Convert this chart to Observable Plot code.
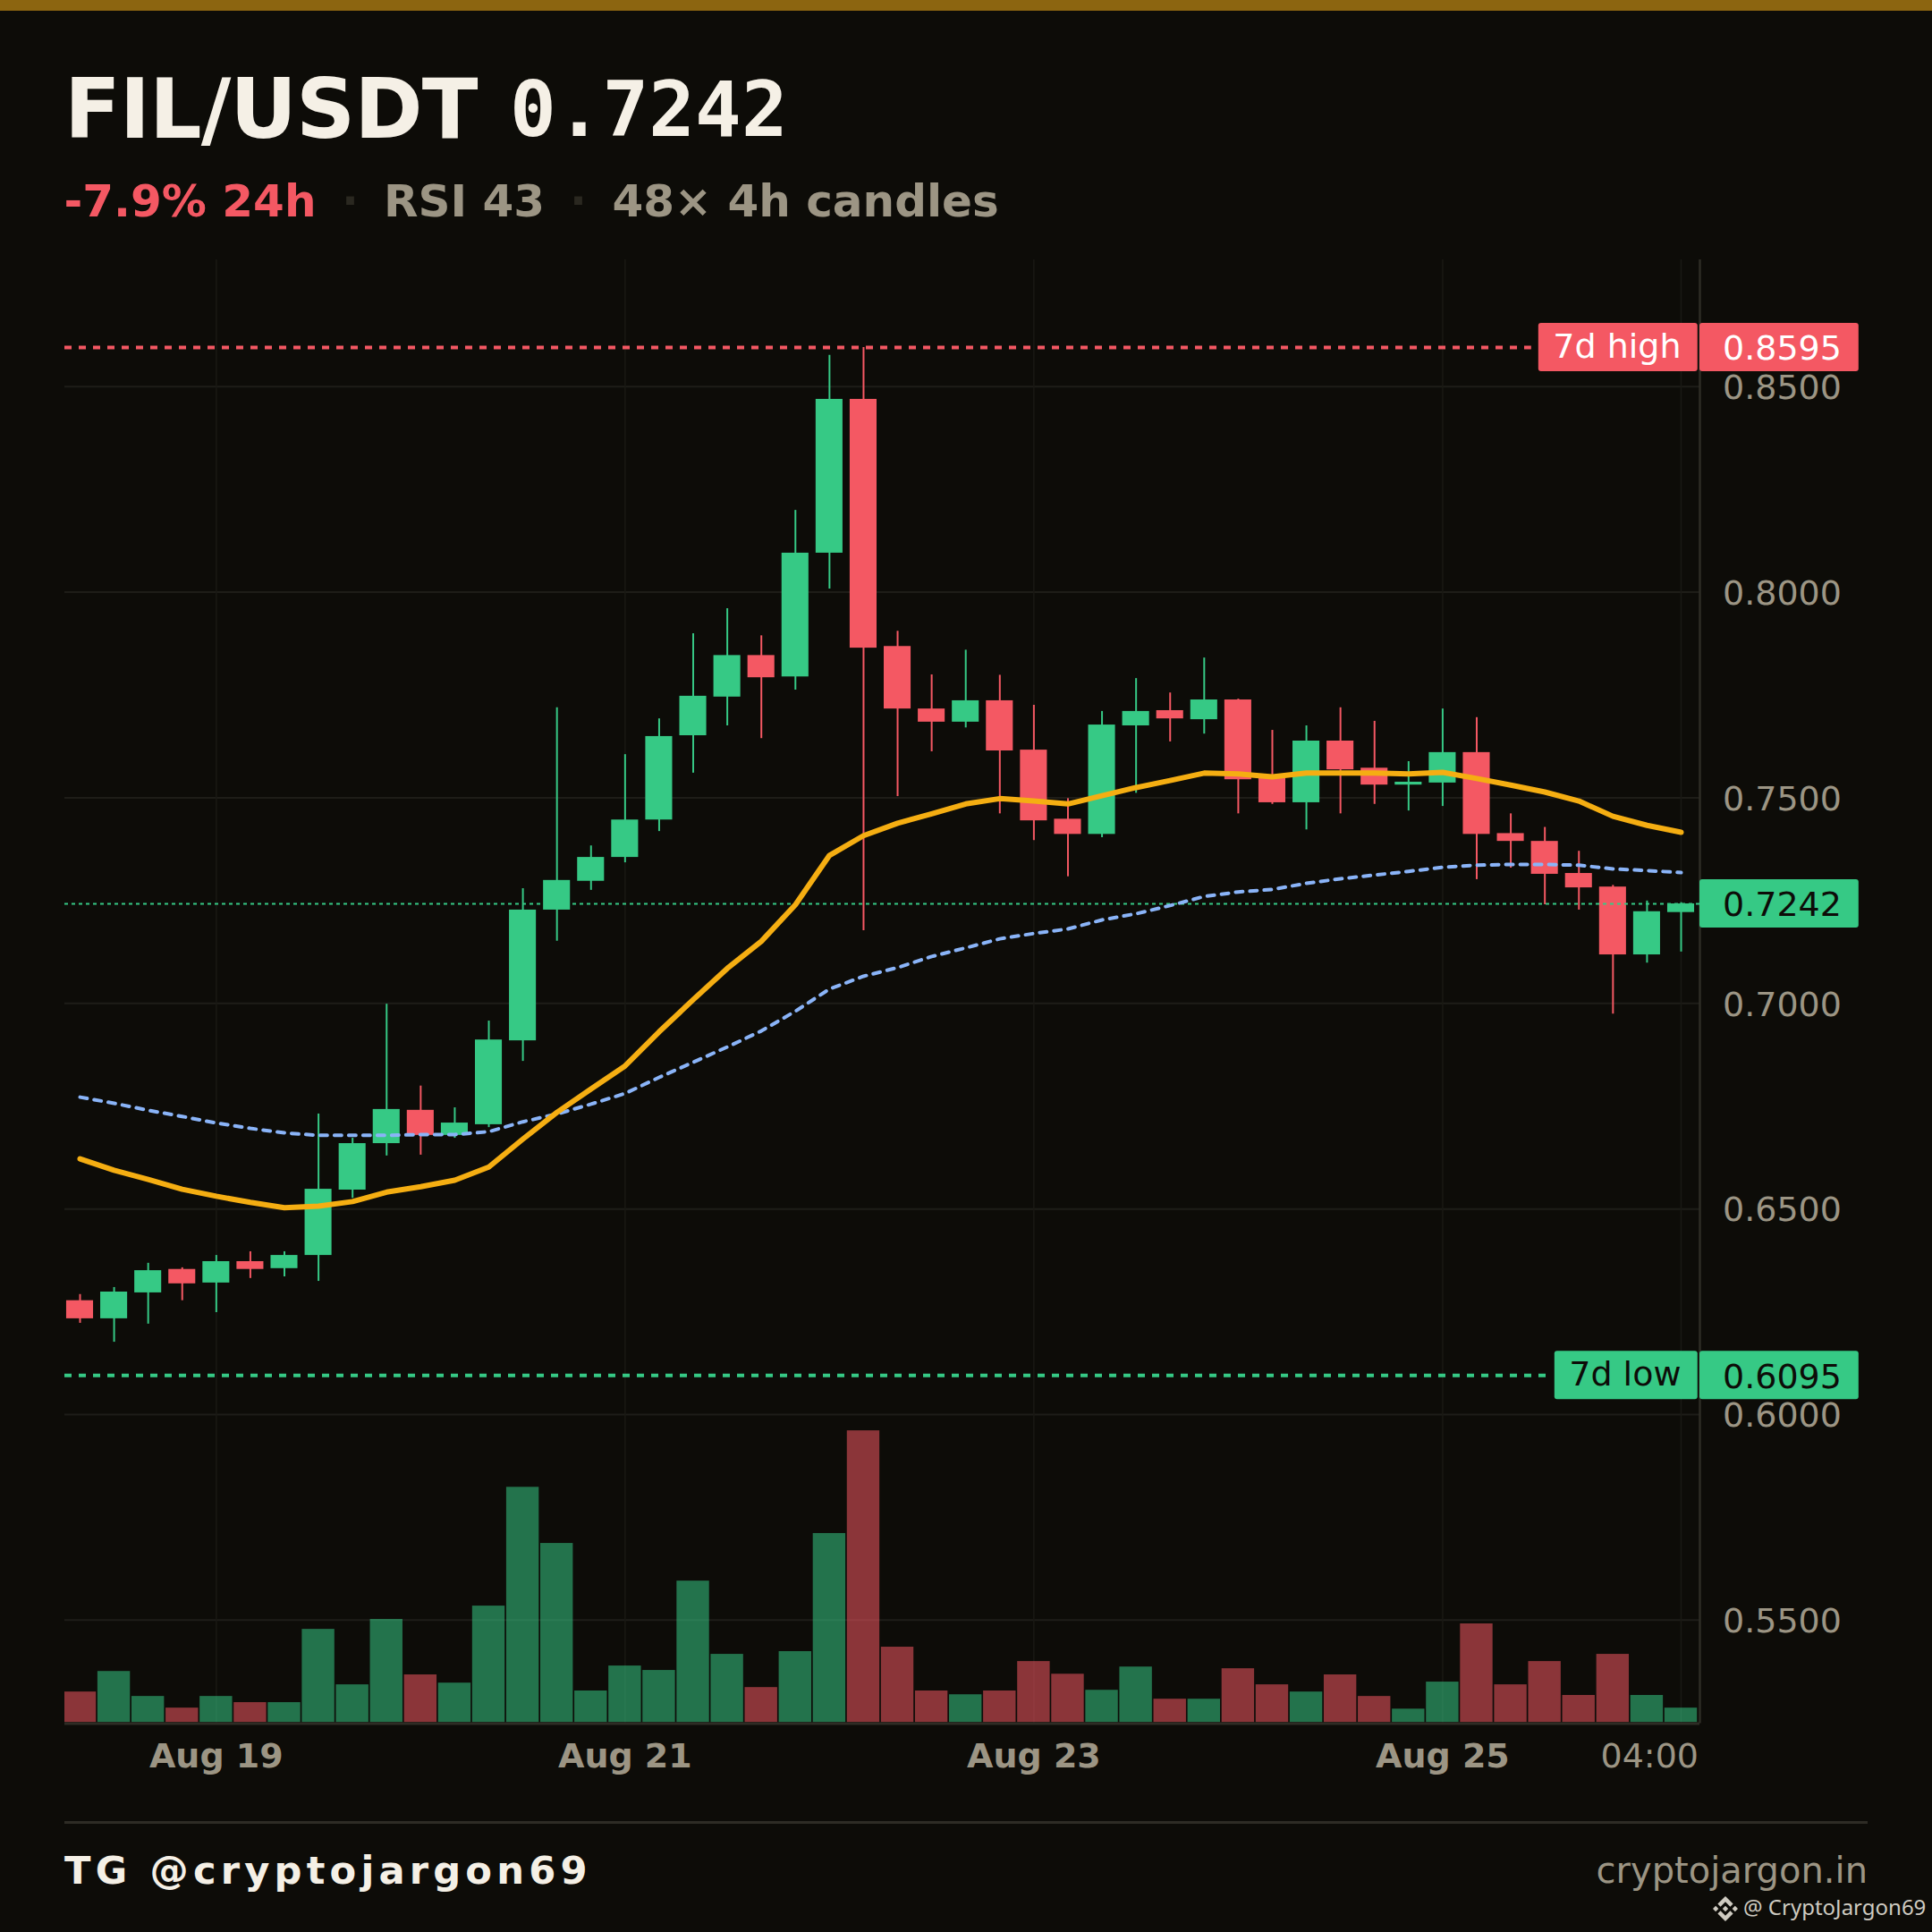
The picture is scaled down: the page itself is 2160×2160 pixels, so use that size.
<!DOCTYPE html>
<html>
<head>
<meta charset="utf-8">
<script src="https://cdn.jsdelivr.net/npm/d3@7"></script>
<script src="https://cdn.jsdelivr.net/npm/@observablehq/plot@0.6"></script>
<style>
  html, body { margin: 0; padding: 0; background: #0d0c08; }
  #page { position: relative; width: 2160px; height: 2160px; overflow: hidden; background: #0d0c08; font-family: "DejaVu Sans", sans-serif; }
  #page > * { position: absolute; white-space: pre; line-height: 1; }
  #bar { left: 0; top: 0; width: 2160px; height: 12px; background: #8c6510; }
  .sym { left: 72px; top: 77px; font-size: 92px; font-weight: 700; letter-spacing: -1px; color: #f5f0e6; }
  .px { left: 570px; top: 79px; font-family: "DejaVu Sans Mono", monospace; font-size: 86px; font-weight: 700; color: #f5f0e6; }
  .sub { top: 200px; font-size: 50px; font-weight: 700; color: #9c9584; }
  .chg { left: 71.5px; color: #f45863; }
  .sep { color: #2a2820; }
  #chart { left: 0; top: 270px; }
  #rule { left: 72px; top: 2036px; width: 2016px; height: 3.4px; background: #2e2c25; }
  .tg { left: 72px; top: 2070px; font-size: 43.2px; font-weight: 700; letter-spacing: 5.2px; color: #f5f0e6; }
  .site { right: 72px; top: 2071px; font-size: 40px; color: #9c9584; }
  .mark { left: 1949px; top: 2120px; font-family: "Noto Sans", sans-serif; font-size: 24px; color: #cfcbc1; }
  #logo { left: 1915px; top: 2120px; width: 28px; height: 28px; }
</style>
</head>
<body>
<div id="page">
  <div id="bar"></div>
  <div class="sym">FIL/USDT</div>
  <div class="px">0.7242</div>
  <div class="sub chg">-7.9% 24h</div>
  <div class="sub sep" style="left:382px">·</div>
  <div class="sub" style="left:429px">RSI 43</div>
  <div class="sub sep" style="left:637px">·</div>
  <div class="sub" style="left:684.5px">48× 4h candles</div>
  <div id="chart"></div>
  <div id="rule"></div>
  <div class="tg">TG @cryptojargon69</div>
  <div class="site">cryptojargon.in</div>
  <svg id="logo" viewBox="0 0 126.61 126.61"><path fill="#cfcbc1" d="M38.73 53.2l24.59-24.58 24.6 24.6 14.3-14.31L63.32 0 24.43 38.9zM0 63.31l14.3-14.31 14.31 14.31-14.31 14.3zM38.73 73.41l24.59 24.59 24.6-24.6 14.31 14.29-38.9 38.91-38.91-38.88-.02-.02zM98 63.31l14.3-14.3 14.31 14.3-14.31 14.3zM77.83 63.3L63.32 48.78 52.59 59.51l-1.24 1.23-2.54 2.54 14.51 14.5 14.51-14.47z"/></svg>
  <div class="mark">@ CryptoJargon69</div>
</div>
<script>
const opens = [.6277,.6233,.6296,.6353,.6320,.6372,.6355,.6387,.6546,.6659,.6740,.6679,.6705,.6909,.7227,.7297,.7355,.7446,.7651,.7745,.7846,.7794,.8095,.8469,.7868,.7716,.7684,.7736,.7616,.7448,.7411,.7675,.7712,.7690,.7738,.7549,.7488,.7638,.7572,.7531,.7536,.7610,.7413,.7394,.7316,.7283,.7118,.7221];
const highs = [.6292,.6309,.6368,.6357,.6387,.6396,.6396,.6731,.6672,.6998,.6799,.6746,.6957,.7279,.7719,.7383,.7605,.7692,.7899,.7960,.7894,.8199,.8576,.8595,.7905,.7799,.7859,.7798,.7725,.7498,.7710,.7790,.7755,.7840,.7740,.7664,.7675,.7719,.7686,.7588,.7716,.7695,.7461,.7428,.7370,.7287,.7249,.7245];
const lows = [.6222,.6176,.6220,.6277,.6248,.6331,.6335,.6324,.6526,.6629,.6631,.6672,.6698,.6859,.7151,.7275,.7342,.7418,.7560,.7675,.7644,.7762,.8008,.7177,.7503,.7612,.7670,.7461,.7396,.7308,.7403,.7511,.7636,.7655,.7461,.7484,.7422,.7461,.7484,.7468,.7479,.7301,.7329,.7240,.7227,.6974,.7098,.7125];
const closes = [.6233,.6298,.6350,.6318,.6372,.6353,.6387,.6548,.6659,.6742,.6679,.6709,.6911,.7227,.7299,.7355,.7446,.7649,.7747,.7846,.7792,.8095,.8469,.7864,.7716,.7684,.7736,.7614,.7444,.7411,.7677,.7710,.7692,.7738,.7544,.7488,.7638,.7568,.7531,.7538,.7610,.7411,.7394,.7314,.7281,.7118,.7223,.7242];
const volumes = [89,149,76,42,76,58,58,272,110,301,139,115,340,687,523,92,165,152,413,199,102,207,552,852,220,92,81,92,178,141,94,162,68,68,157,110,89,139,76,39,118,288,110,178,79,199,79,42];
const emaFast = [.6622,.6594,.6572,.6548,.6531,.6516,.6503,.6507,.6518,.6541,.6554,.6570,.6602,.6670,.6735,.6792,.6848,.6931,.7009,.7085,.7151,.7240,.7360,.7408,.7438,.7461,.7485,.7498,.7492,.7485,.7505,.7525,.7542,.7560,.7558,.7551,.7560,.7560,.7560,.7558,.7562,.7547,.7531,.7514,.7492,.7455,.7433,.7416];
const emaSlow = [.6772,.6757,.6740,.6725,.6709,.6696,.6685,.6679,.6679,.6679,.6681,.6681,.6688,.6712,.6731,.6755,.6781,.6820,.6857,.6894,.6933,.6981,.7035,.7066,.7087,.7114,.7135,.7157,.7170,.7181,.7203,.7218,.7238,.7260,.7271,.7277,.7292,.7303,.7312,.7321,.7331,.7336,.7338,.7338,.7336,.7327,.7323,.7318];
const priceTicks = [.85,.80,.75,.70,.65,.60,.55];
const dayTicks = ["2025-08-19","2025-08-21","2025-08-23","2025-08-25"];
const lastTick = "2025-08-26T04:00Z";
const high7d = .8595, low7d = .6095, last = .7242;

const GREEN = "#36c985", RED = "#f45863", GRID = "#1e1d18", GRIDV = "#1a1914", AXIS = "#2e2c25", MUTED = "#9c9584", BG = "#0d0c08";
const t0 = Date.UTC(2025, 7, 18, 8);
const at = h => new Date(t0 + h * 36e5);
const up = i => closes[i] >= opens[i];
const candles = opens.map((open, i) => ({
  time: at(4 * i), t1: at(4 * i - 2), t2: at(4 * i + 2),
  open, close: closes[i], high: highs[i], low: lows[i],
  volume: volumes[i], fast: emaFast[i], slow: emaSlow[i],
  color: up(i) ? GREEN : RED
}));
const yMin = .52482, yMax = .88083, volBase = yMin + .0003, volUnit = 8.325e-5, tagHalf = .00587;
const xEnd = at(190.205);
const days = dayTicks.map(d => new Date(d));
const lastDate = new Date(lastTick);
const font = { fontSize: 38 };

const chart = Plot.plot({
  width: 2160, height: 1740,
  marginLeft: 72, marginRight: 260, marginTop: 20, marginBottom: 83.4,
  style: { background: "transparent", fontFamily: "DejaVu Sans, sans-serif" },
  x: { type: "utc", domain: [at(-1.785), xEnd] },
  y: { domain: [yMin, yMax] },
  color: { type: "identity" },
  marks: [
    Plot.ruleY(priceTicks, { stroke: GRID, strokeWidth: 2 }),
    Plot.ruleX([...days, lastDate], { stroke: GRIDV, strokeWidth: 1.5 }),
    Plot.rect(candles, { x1: "t1", x2: "t2", y1: volBase, y2: d => volBase + d.volume * volUnit, fill: "color", fillOpacity: .55, insetLeft: .85, insetRight: .85, clip: true }),
    Plot.ruleX([xEnd], { stroke: AXIS, strokeWidth: 2.5 }),
    Plot.ruleY([yMin], { stroke: AXIS, strokeWidth: 3 }),
    Plot.ruleX(candles, { x: "time", y1: "low", y2: "high", stroke: "color", strokeWidth: 2 }),
    Plot.rect(candles, { x1: "t1", x2: "t2", y1: "open", y2: "close", fill: "color", insetLeft: 4, insetRight: 4 }),
    Plot.ruleY([last], { stroke: GREEN, strokeWidth: 2, strokeDasharray: "4,4" }),
    Plot.ruleY([high7d], { x1: at(-1.785), x2: at(170.44), stroke: RED, strokeWidth: 4, strokeDasharray: "8,8" }),
    Plot.ruleY([low7d], { x1: at(-1.785), x2: at(172.3), stroke: GREEN, strokeWidth: 4, strokeDasharray: "8,8" }),
    Plot.line(candles, { x: "time", y: "slow", stroke: "#8ab4f8", strokeWidth: 4, strokeDasharray: "8,8" }),
    Plot.line(candles, { x: "time", y: "fast", stroke: "#f5ae12", strokeWidth: 6, strokeLinejoin: "round" }),
    Plot.axisY(priceTicks, { anchor: "right", tickSize: 0, tickPadding: 25.5, tickFormat: d => d.toFixed(4), fill: MUTED, label: null, dy: 1.6, ...font }),
    Plot.axisX(days, { anchor: "bottom", tickSize: 0, tickPadding: 22, tickFormat: d3.utcFormat("Aug %d"), fill: MUTED, fontWeight: 700, label: null, ...font }),
    Plot.axisX([lastDate], { anchor: "bottom", tickSize: 0, tickPadding: 22, tickFormat: d3.utcFormat("%H:%M"), fill: MUTED, textAnchor: "end", dx: 19.5, label: null, ...font }),
    // price tags
    Plot.rect([high7d], { x1: at(171.28), x2: at(189.97), y1: d => d - tagHalf, y2: d => d + tagHalf, fill: RED, rx: 3 }),
    Plot.rect([high7d, last, low7d], { x1: xEnd, x2: at(208.88), y1: d => d - tagHalf, y2: d => d + tagHalf, fill: d => d === high7d ? RED : GREEN, rx: 3 }),
    Plot.rect([low7d], { x1: at(173.17), x2: at(189.97), y1: d => d - tagHalf, y2: d => d + tagHalf, fill: GREEN, rx: 3 }),
    Plot.text([high7d, last, low7d], { y: d => d, frameAnchor: "right", dx: 25.5, textAnchor: "start", dy: 1.6, text: d => d.toFixed(4), fill: d => d === high7d ? "#ffffff" : BG, ...font }),
    Plot.text([high7d], { y: d => d, frameAnchor: "right", dx: -21, textAnchor: "end", text: () => "7d high", fill: "#ffffff", dy: -1, ...font }),
    Plot.text([low7d], { y: d => d, frameAnchor: "right", dx: -21, textAnchor: "end", text: () => "7d low", fill: BG, dy: -1, ...font })
  ]
});
document.getElementById("chart").appendChild(chart);
</script>
</body>
</html>
